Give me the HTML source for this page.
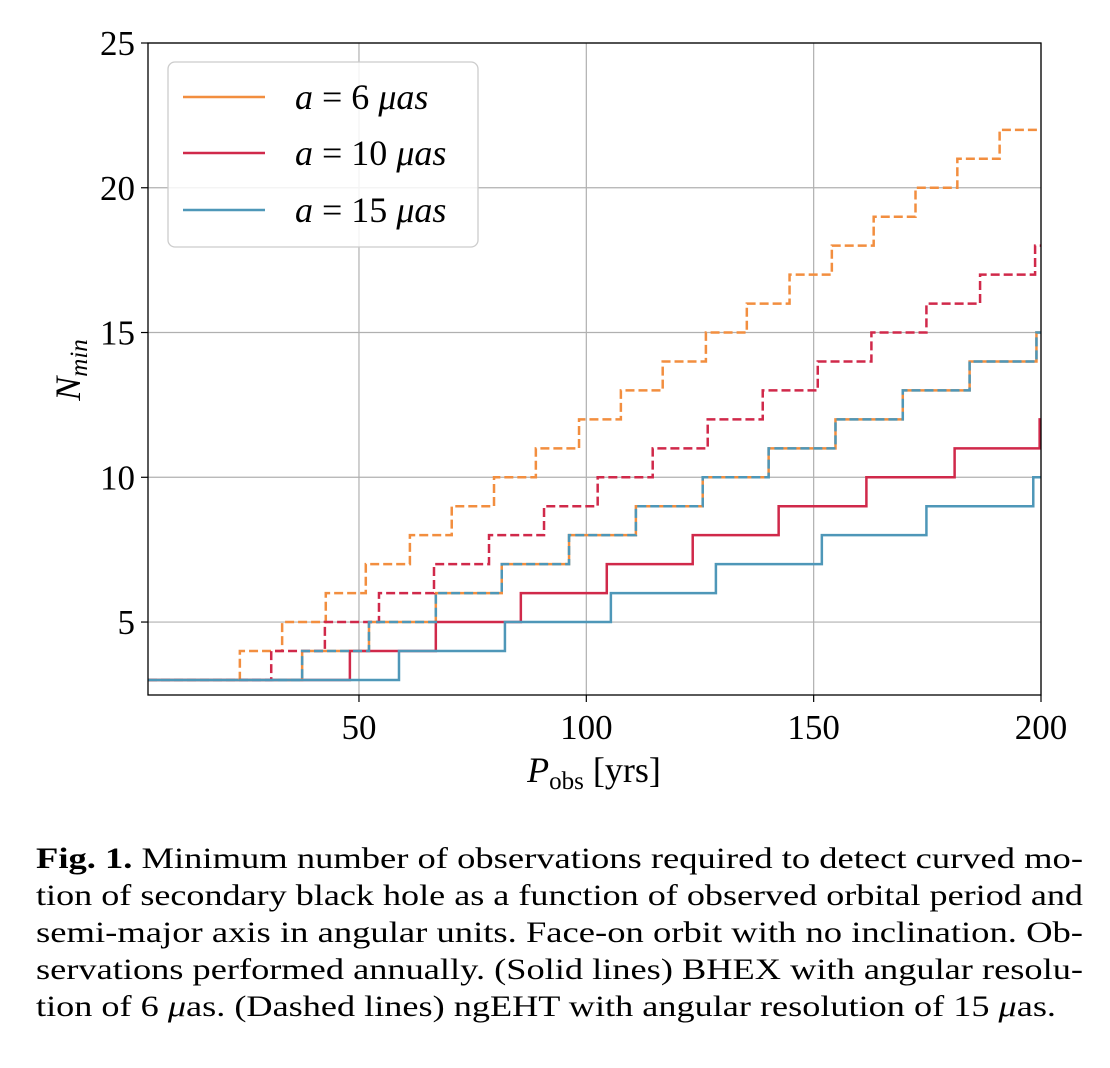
<!DOCTYPE html>
<html><head><meta charset="utf-8"><style>
body{margin:0;background:#fff;}
svg{display:block;font-family:"Liberation Serif",serif;}
</style></head><body>
<svg id="chart" width="1110" height="1068" viewBox="0 0 1110 1068">
<g id="grid"></g>
<g id="series"></g>
<rect x="148" y="43" width="893" height="652" fill="none" stroke="#000" stroke-width="1.3"/>
<g id="ticks"></g>
<text transform="translate(80,370) rotate(-90)" font-size="36" font-style="italic" text-anchor="middle">N<tspan font-size="25" dy="7">min</tspan></text>
<text x="594" y="782" font-size="36" text-anchor="middle"><tspan font-style="italic">P</tspan><tspan font-size="25" dy="7">obs</tspan><tspan dy="-7"> [yrs]</tspan></text>
<g>
<rect x="168" y="62" width="310" height="185" rx="7" fill="#fff" fill-opacity="0.85" stroke="#ccc" stroke-width="1.3"/>
<line x1="183" y1="97" x2="265" y2="97" stroke="#f28e3f" stroke-width="2.5"/>
<text x="295" y="109" font-size="36"><tspan font-style="italic">a</tspan> = 6 <tspan font-style="italic">μas</tspan></text>
<line x1="183" y1="153" x2="265" y2="153" stroke="#d0294a" stroke-width="2.5"/>
<text x="295" y="165" font-size="36"><tspan font-style="italic">a</tspan> = 10 <tspan font-style="italic">μas</tspan></text>
<line x1="183" y1="210" x2="265" y2="210" stroke="#4e97b8" stroke-width="2.5"/>
<text x="295" y="222" font-size="36"><tspan font-style="italic">a</tspan> = 15 <tspan font-style="italic">μas</tspan></text>
</g>
<g font-size="30">
<text x="36" y="868" textLength="1047" lengthAdjust="spacingAndGlyphs"><tspan font-weight="bold">Fig. 1.</tspan> Minimum number of observations required to detect curved mo-</text>
<text x="36" y="905" textLength="1047" lengthAdjust="spacingAndGlyphs">tion of secondary black hole as a function of observed orbital period and</text>
<text x="36" y="942" textLength="1047" lengthAdjust="spacingAndGlyphs">semi-major axis in angular units. Face-on orbit with no inclination. Ob-</text>
<text x="36" y="979" textLength="1047" lengthAdjust="spacingAndGlyphs">servations performed annually. (Solid lines) BHEX with angular resolu-</text>
<text x="36" y="1016" textLength="1020" lengthAdjust="spacingAndGlyphs">tion of 6 <tspan font-style="italic">μ</tspan>as. (Dashed lines) ngEHT with angular resolution of 15 <tspan font-style="italic">μ</tspan>as.</text>
</g>
</svg>
<script>
const xTicks=[50,100,150,200];
const yTicks=[5,10,15,20,25];
const xMin=3.6,xMax=200,yMin=2.48,yMax=25;
const startN=3;
const orangeDashedSteps=[23.8,33.1,42.7,51.5,61.2,70.4,79.7,88.9,98.4,107.6,116.8,126.3,135.3,144.7,154,163.2,172.4,181.6,190.9];
const redDashedSteps=[30.7,42.5,54.4,66.5,78.6,90.7,102.5,114.6,126.7,138.8,150.9,162.7,174.8,186.6,198.7];
const orangeSolidSteps=[37.5,52.2,66.9,81.4,96.2,110.9,125.6,140.1,154.8,169.6,184.3,199];
const blueDashedSteps=[37.5,52.2,66.9,81.4,96.2,110.9,125.6,140.1,154.8,169.6,184.3,199];
const redSolidSteps=[48,66.9,85.6,104.5,123.4,142.3,161.6,181,199.7];
const blueSolidSteps=[58.8,82.1,105.4,128.5,151.8,174.8,198.3];
const L=148,R=1041,T=43,B=695;
const sx=v=>L+(v-xMin)/(xMax-xMin)*(R-L);
const sy=v=>B-(v-yMin)/(yMax-yMin)*(B-T);
const NS="http://www.w3.org/2000/svg";
const grid=document.getElementById('grid'),ticks=document.getElementById('ticks'),ser=document.getElementById('series');
function mk(tag,attrs,parent){const e=document.createElementNS(NS,tag);for(const k in attrs)e.setAttribute(k,attrs[k]);parent.appendChild(e);return e;}
xTicks.forEach(v=>{
 const g=mk('line',{x1:sx(v),x2:sx(v),y1:T,y2:B,stroke:'#b0b0b0','stroke-width':1.2},grid);
 
 
 mk('line',{x1:sx(v),x2:sx(v),y1:B,y2:B+7,stroke:'#000','stroke-width':1.2},ticks);
 const t=mk('text',{x:sx(v),y:B+44,'font-size':35,'text-anchor':'middle'},ticks);
 t.textContent=v;
 
 
});
yTicks.forEach(v=>{
 const g=mk('line',{x1:L,x2:R,y1:sy(v),y2:sy(v),stroke:'#b0b0b0','stroke-width':1.2},grid);
 
 
 mk('line',{x1:L-7,x2:L,y1:sy(v),y2:sy(v),stroke:'#000','stroke-width':1.2},ticks);
 const t=mk('text',{x:L-13,y:sy(v)+12,'font-size':35,'text-anchor':'end'},ticks);
 t.textContent=v;
 
 
});
function stepPath(steps){
 let n=startN,d='M'+sx(xMin)+','+sy(n);
 steps.forEach(x=>{d+=' L'+sx(x)+','+sy(n);n++;d+=' L'+sx(x)+','+sy(n);});
 d+=' L'+sx(xMax)+','+sy(n);return d;
}
function draw(steps,color,dash,name){
 const p=mk('path',{d:stepPath(steps),fill:'none',stroke:color,'stroke-width':2.5},ser);
 if(dash)p.setAttribute('stroke-dasharray','9,4');
 
 
}
draw(orangeSolidSteps,'#f28e3f',false,'line-a6-bhex');
draw(redSolidSteps,'#d0294a',false,'line-a10-bhex');
draw(blueSolidSteps,'#4e97b8',false,'line-a15-bhex');
draw(orangeDashedSteps,'#f28e3f',true,'line-a6-ngeht');
draw(redDashedSteps,'#d0294a',true,'line-a10-ngeht');
draw(blueDashedSteps,'#4e97b8',true,'line-a15-ngeht');
</script>
</body></html>
